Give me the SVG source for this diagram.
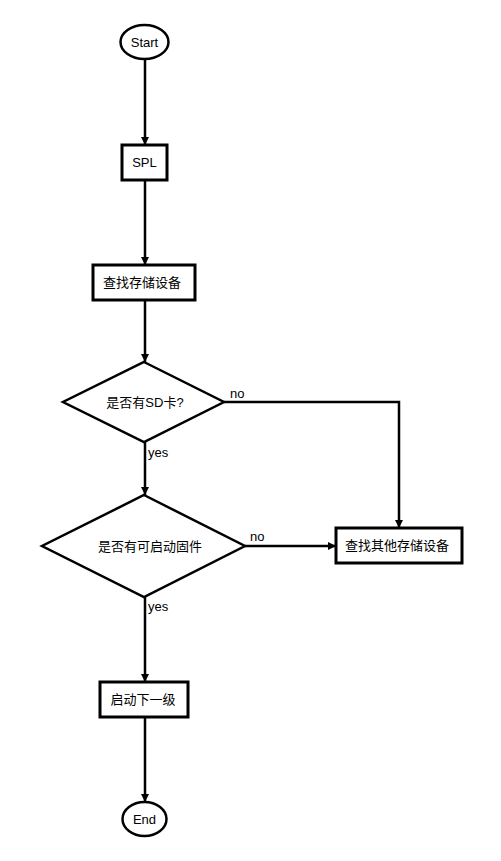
<svg xmlns="http://www.w3.org/2000/svg" width="501" height="861" viewBox="0 0 501 861">
<style>
.n{fill:#fff;stroke:#000;stroke-width:2.5}
.b{fill:#fff;stroke:#000;stroke-width:3}
.e{stroke:#000;stroke-width:2.5;fill:none}
text{font-family:"Liberation Sans","Noto Sans CJK SC",Arial,sans-serif;font-size:13px;fill:#000}
.c{text-anchor:middle;dominant-baseline:central}
</style>
<defs>
<marker id="ah" viewBox="0 0 10 10" refX="10" refY="5" markerWidth="3.2" markerHeight="3.2" markerUnits="strokeWidth" orient="auto">
<path d="M0,0 L10,5 L0,10 z" fill="#000"/>
</marker>
</defs>
<rect width="501" height="861" fill="#fff"/>
<g id="edges">
<path class="e" d="M145,59 V145" marker-end="url(#ah)"/>
<path class="e" d="M145,180 V265" marker-end="url(#ah)"/>
<path class="e" d="M145,300 V362" marker-end="url(#ah)"/>
<path class="e" d="M145,442 V495" marker-end="url(#ah)"/>
<path class="e" d="M224,402 H399 V528" marker-end="url(#ah)"/>
<path class="e" d="M245,546 H336" marker-end="url(#ah)"/>
<path class="e" d="M145,597 V682" marker-end="url(#ah)"/>
<path class="e" d="M145,717 V802" marker-end="url(#ah)"/>
<text x="230" y="398">no</text>
<text x="250" y="541">no</text>
<text x="148" y="457">yes</text>
<text x="148" y="611">yes</text>
</g>
<g id="start"><ellipse class="n" cx="144.5" cy="42" rx="24" ry="17"/><text class="c" x="144.5" y="42">Start</text></g>
<g id="spl"><rect class="b" x="122" y="145" width="45" height="35"/><text class="c" x="144.5" y="162.5">SPL</text></g>
<g id="find"><rect class="b" x="93" y="265" width="102" height="35"/><text class="c" x="142" y="282.5">查找存储设备</text></g>
<g id="sd"><polygon class="n" points="144,362 224,402 144,442 63,402"/><text class="c" x="145" y="402">是否有SD卡?</text></g>
<g id="fw"><polygon class="n" points="144,495 245,546 144,597 42,546"/><text class="c" x="150" y="546">是否有可启动固件</text></g>
<g id="other"><rect class="b" x="336" y="528" width="126" height="35"/><text class="c" x="397" y="545.5">查找其他存储设备</text></g>
<g id="next"><rect class="b" x="100" y="682" width="88" height="35"/><text class="c" x="143" y="699.5">启动下一级</text></g>
<g id="end"><ellipse class="n" cx="144.5" cy="819" rx="22" ry="17"/><text class="c" x="144.5" y="819">End</text></g>
</svg>
